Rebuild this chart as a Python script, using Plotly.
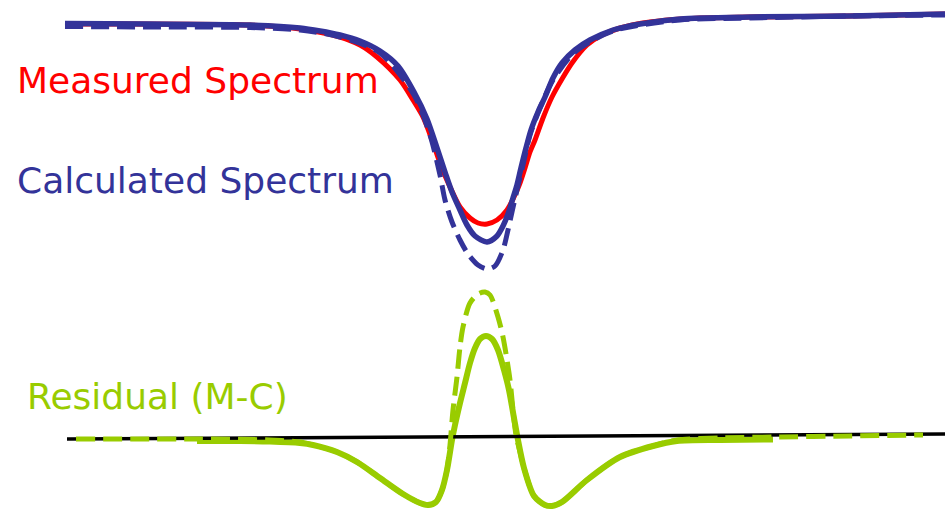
import plotly.graph_objects as go

# Canvas-scaled intensity: larger value = higher flux
H = 510

# Calculated spectrum (solid)
calc_x = [65, 150, 250, 300, 320, 340, 360, 380, 398, 414, 427, 437, 445, 452, 460, 467, 475,
          487, 497, 503, 508, 513, 517, 521, 526, 531, 538, 545, 553, 562, 575, 590, 613, 640,
          680, 750, 850, 945]
calc_depth = [23.5, 24, 25, 28, 31, 35, 41, 51, 66, 92, 119, 148, 172, 192, 210, 225, 236,
              242, 236, 226, 214, 198, 185, 168, 148, 130, 112, 97, 78, 63, 50, 40, 30, 24,
              19, 17, 16, 14]

# Measured spectrum
meas_x = [65, 250, 300, 340, 360, 377, 400, 413, 423, 432, 440, 450, 460, 470, 478, 487, 497,
          507, 514, 520, 525, 530, 535, 543, 552, 562, 572, 587, 600, 620, 650, 700, 750, 850, 945]
meas_depth = [24, 25, 29, 37, 45, 57, 80, 100, 117, 140, 163, 187, 207, 218, 223, 224, 220,
              210, 197, 183, 168, 152, 140, 118, 97, 79, 63, 45, 36, 28, 22, 18, 17, 16, 14]

# Calculated spectrum, alternative model (dashed)
alt_x = [65, 150, 250, 300, 340, 380, 414, 430, 440, 445, 452, 460, 468, 478, 487, 495, 503,
         508, 512, 517, 523, 530, 540, 553, 575, 613, 680, 750, 850, 945]
alt_depth = [26.5, 27, 27.5, 30, 37, 53, 95, 135, 175, 200, 222, 240, 254, 265, 269, 266, 250,
             230, 212, 190, 165, 135, 108, 80, 52, 31, 20, 18, 16, 15]

# Residual (M-C), solid model
res_x = [197, 240, 270, 300, 313, 337, 357, 380, 403, 420, 428, 436, 442, 447, 452, 455, 460,
         465, 470, 475, 480, 486, 492, 498, 504, 509, 514, 518, 524, 534, 545, 552, 562, 587,
         620, 653, 677, 720, 773]
res_depth = [441, 441, 441.5, 443, 445, 452, 462, 478, 494, 503, 505, 502, 490, 470, 440, 425, 403,
             383, 363, 348, 339, 336, 339, 350, 370, 390, 418, 440, 468, 496, 505, 506, 502, 480,
             457, 446, 441, 440, 439.5]

# Residual (M-C), dashed model
res2_x = [76, 200, 270, 300, 313, 337, 357, 380, 403, 420, 428, 436, 442, 447, 450, 453, 457,
          460, 463, 470, 478, 485, 490, 498, 503, 507, 510, 513, 516, 520, 524, 534, 545, 552,
          562, 587, 620, 653, 677, 720, 773, 850, 923]
res2_depth = [439, 439, 440, 442, 445, 452, 462, 478, 494, 503, 505, 502, 490, 470, 445, 410, 377,
              347, 327, 303, 294, 292, 295, 317, 337, 360, 380, 410, 435, 452, 468, 496, 505, 506,
              502, 480, 457, 446, 440, 438, 437, 436, 435]

# Zero line of the residual
zero_x = [67, 945]
zero_depth = [439, 434]

labels = ["Measured Spectrum", "Calculated Spectrum", "Residual (M-C)"]
label_x = [15, 15, 25]
label_depth = [80, 180, 396]

RED = "#FF0000"
BLUE = "#333399"
GREEN = "#99CC00"


def up(v):
    return [H - d for d in v]


fig = go.Figure()
fig.add_trace(go.Scatter(x=meas_x, y=up(meas_depth), mode="lines",
                         line=dict(color=RED, width=5, shape="spline", smoothing=0.8)))
fig.add_trace(go.Scatter(x=calc_x, y=up(calc_depth), mode="lines",
                         line=dict(color=BLUE, width=5.5, shape="spline", smoothing=0.8)))
fig.add_trace(go.Scatter(x=alt_x, y=up(alt_depth), mode="lines",
                         line=dict(color=BLUE, width=5, shape="spline", smoothing=0.8,
                                   dash="18px,8px")))
fig.add_trace(go.Scatter(x=res_x, y=up(res_depth), mode="lines",
                         line=dict(color=GREEN, width=6, shape="spline", smoothing=0.8)))
fig.add_trace(go.Scatter(x=zero_x, y=up(zero_depth), mode="lines",
                         line=dict(color="black", width=3.5)))
fig.add_trace(go.Scatter(x=res2_x, y=up(res2_depth), mode="lines",
                         line=dict(color=GREEN, width=5, shape="spline", smoothing=0.8,
                                   dash="19px,8px")))

for txt, lx, ld, col in zip(labels, label_x, label_depth, [RED, BLUE, GREEN]):
    fig.add_annotation(x=lx, y=H - ld, xref="x", yref="y", text=txt, showarrow=False,
                       xanchor="left", yanchor="middle",
                       font=dict(family="DejaVu Sans", size=36, color=col))

fig.update_layout(
    width=947, height=510,
    margin=dict(l=0, r=0, t=0, b=0),
    paper_bgcolor="white", plot_bgcolor="white",
    showlegend=False,
    xaxis=dict(range=[0, 947], visible=False, fixedrange=True),
    yaxis=dict(range=[0, 510], visible=False, fixedrange=True),
)

fig.write_html("out.html", config={"displayModeBar": False})
